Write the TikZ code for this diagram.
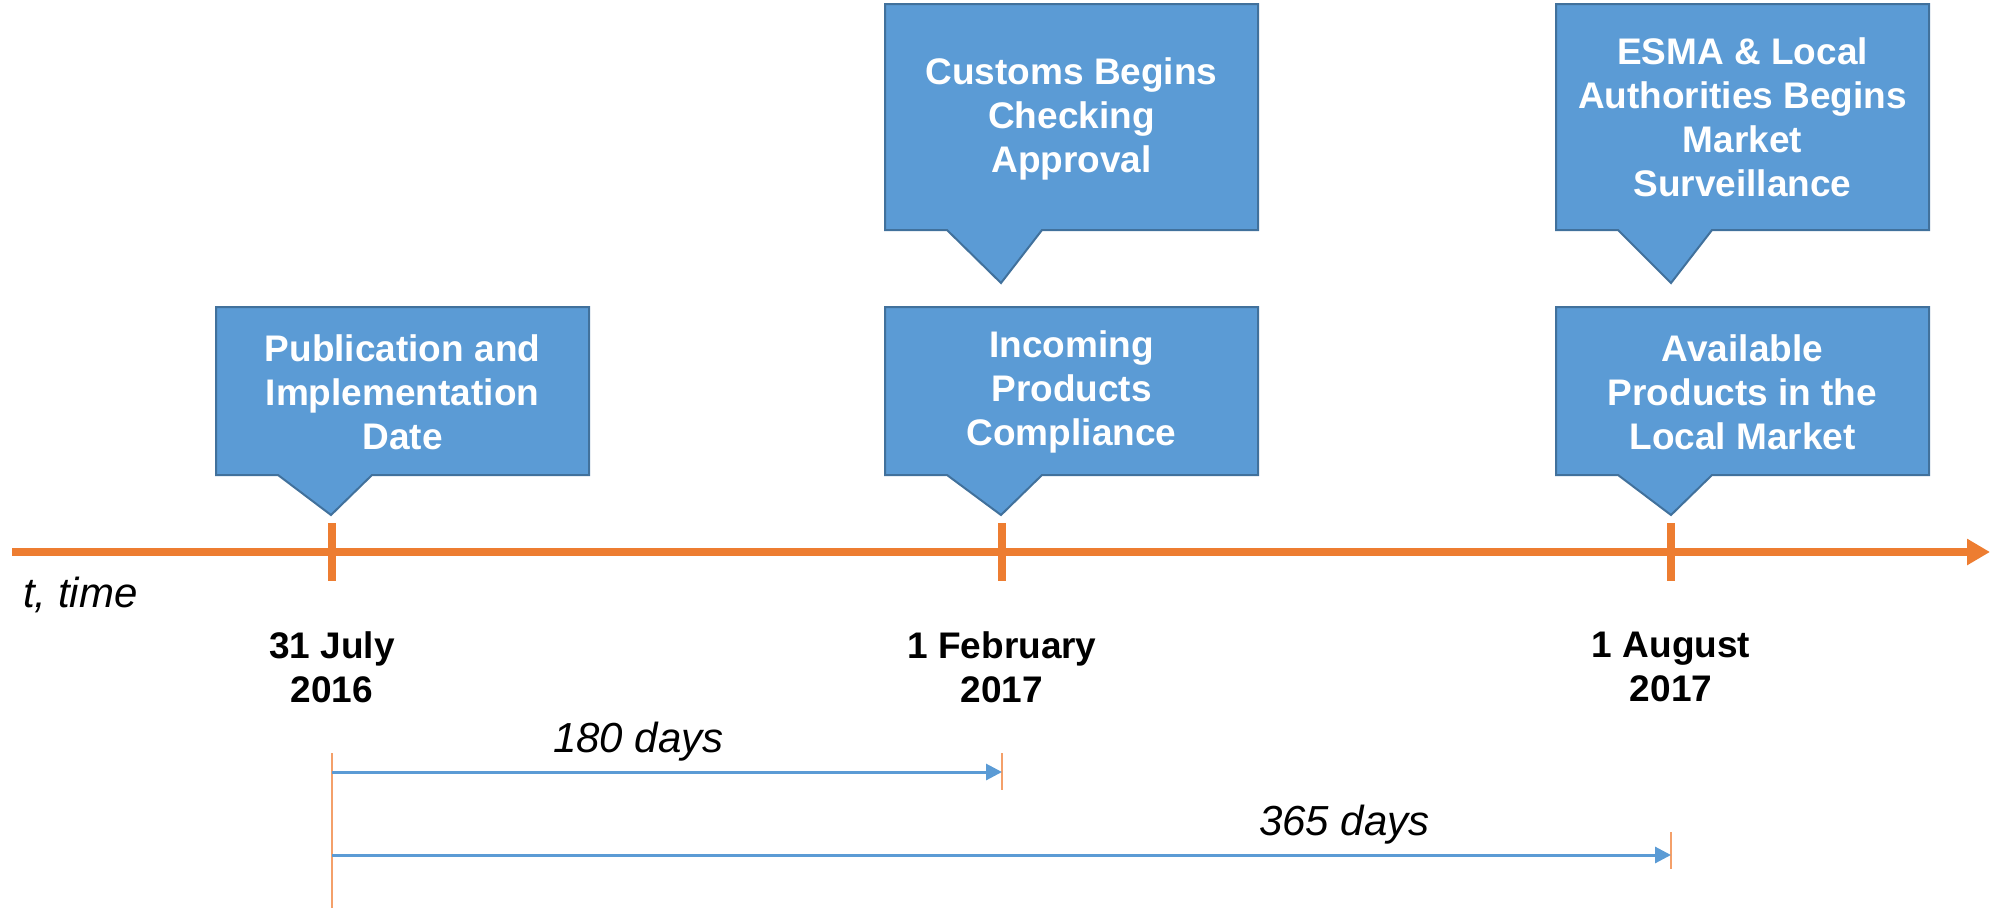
\documentclass[tikz,border=0pt]{standalone}
\usepackage{fontspec}
\setmainfont{Liberation Sans}
\usetikzlibrary{arrows.meta}
\definecolor{boxfill}{HTML}{5B9BD5}
\definecolor{boxline}{HTML}{41719C}
\definecolor{tlorange}{HTML}{ED7D31}
\definecolor{thinorange}{HTML}{F4A06A}
\tikzset{
  calloutpath/.style={fill=boxfill, draw=boxline, line width=2pt, line join=miter},
  boxtext/.style={text=white, align=center, inner sep=0pt, font=\bfseries\fontsize{37}{44}\selectfont},
  datetext/.style={text=black, align=center, inner sep=0pt, font=\bfseries\fontsize{37}{44}\selectfont},
  daytext/.style={text=black, inner sep=0pt, font=\itshape\fontsize{42}{48}\selectfont},
  timeline/.style={draw=tlorange, line width=8pt, -{Triangle[length=23pt,width=25pt]}},
  tickmark/.style={draw=tlorange, line width=8pt},
  thintick/.style={draw=thinorange, line width=1.6pt},
  spanarrow/.style={draw=boxfill, line width=3pt, -{Triangle[length=16pt,width=16pt]}},
}
\begin{document}
\begin{tikzpicture}[x=1pt,y=-1pt]
\useasboundingbox (0,0) rectangle (1990,908);
% timeline
\coordinate (tlstart) at (12,552);
\coordinate (tlend) at (1990,552);
\draw[timeline] (tlstart) -- (tlend);
% ticks on timeline
\coordinate (t1a) at (332,523); \coordinate (t1b) at (332,581);
\coordinate (t2a) at (1002,523); \coordinate (t2b) at (1002,581);
\coordinate (t3a) at (1671,523); \coordinate (t3b) at (1671,581);
\draw[tickmark] (t1a) -- (t1b);
\draw[tickmark] (t2a) -- (t2b);
\draw[tickmark] (t3a) -- (t3b);
% lower callouts
\draw[calloutpath] (216,307) -- (589,307) -- (589,475) -- (372,475) -- (331,515) -- (278,475) -- (216,475) -- cycle;
\node[boxtext] (pub) at (402.5,392) {Publication and\\Implementation\\Date};
\draw[calloutpath] (885,307) -- (1258,307) -- (1258,475) -- (1042,475) -- (1001,515) -- (947,475) -- (885,475) -- cycle;
\node[boxtext] (inc) at (1071.5,392) {Incoming\\Products\\Compliance};
\draw[calloutpath] (1556,307) -- (1929,307) -- (1929,475) -- (1712,475) -- (1671,515) -- (1618,475) -- (1556,475) -- cycle;
\node[boxtext] (avl) at (1742.5,392) {Available\\Products in the\\Local Market};
% upper callouts
\draw[calloutpath] (885,4) -- (1258,4) -- (1258,230) -- (1042,230) -- (1001,283) -- (947,230) -- (885,230) -- cycle;
\node[boxtext] (cus) at (1071.5,119) {Customs Begins\\Checking\\Approval};
\draw[calloutpath] (1556,4) -- (1929,4) -- (1929,230) -- (1712,230) -- (1671,283) -- (1618,230) -- (1556,230) -- cycle;
\node[boxtext] (esma) at (1742.5,117) {ESMA \& Local\\Authorities Begins\\Market\\Surveillance};
% labels
\node[daytext, anchor=base west] (tlabel) at (23,607) {t, time};
\node[datetext] (d1) at (332,667) {31 July\\2016};
\node[datetext] (d2) at (1002,667) {1 February\\2017};
\node[datetext] (d3) at (1671,667) {1 August\\2017};
% spans
\coordinate (s0a) at (332,753); \coordinate (s0b) at (332,908);
\coordinate (s1a) at (1002,753); \coordinate (s1b) at (1002,790);
\coordinate (s2a) at (1671,832); \coordinate (s2b) at (1671,869);
\draw[thintick] (s0a) -- (s0b);
\draw[thintick] (s1a) -- (s1b);
\draw[thintick] (s2a) -- (s2b);
\coordinate (a1s) at (332,772); \coordinate (a1e) at (1002,772);
\coordinate (a2s) at (332,855); \coordinate (a2e) at (1671,855);
\draw[spanarrow] (a1s) -- (a1e);
\draw[spanarrow] (a2s) -- (a2e);
\node[daytext, anchor=base west] (days180) at (553,752) {180 days};
\node[daytext, anchor=base west] (days365) at (1259,835) {365 days};
\end{tikzpicture}
\end{document}
